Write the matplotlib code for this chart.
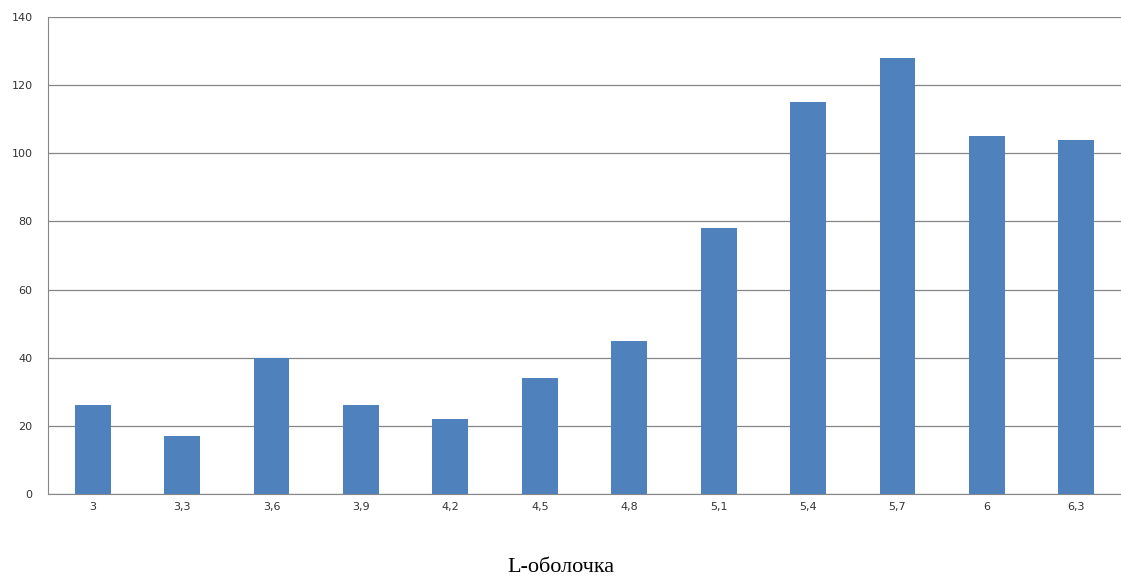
import matplotlib
matplotlib.use("Agg")
import matplotlib.pyplot as plt

categories = ["3", "3,3", "3,6", "3,9", "4,2", "4,5", "4,8", "5,1", "5,4", "5,7", "6", "6,3"]
values = [26, 17, 40, 26, 22, 34, 45, 78, 115, 128, 105, 104]
yticks = [0, 20, 40, 60, 80, 100, 120, 140]
title = "L-оболочка"

fig = plt.figure(figsize=(11.21, 5.77), dpi=100)
ax = fig.add_axes([48/1121, 83/577, 1 - 48/1121, (494-17)/577])
x = list(range(len(categories)))
ax.bar(x, values, width=0.4, color="#4F81BD", zorder=3)
ax.set_xlim(-0.5, len(categories) - 0.5)
ax.set_ylim(0, 140)
ax.set_yticks(yticks)
ax.set_xticks(x)
ax.set_xticklabels(categories)
ax.grid(axis="y", color="#868686", linewidth=0.9, zorder=0)
for s in ["top", "right"]:
    ax.spines[s].set_visible(False)
for s in ["left", "bottom"]:
    ax.spines[s].set_color("#868686")
ax.tick_params(axis="both", length=0, labelsize=8, colors="#333333")
ax.tick_params(axis="x", pad=6)
ax.tick_params(axis="y", pad=11)
fig.text(0.5, 1 - 568/577, title, ha="center", va="center",
         family="Liberation Serif", fontsize=16, color="black")
fig.savefig("out.png", dpi=100)
